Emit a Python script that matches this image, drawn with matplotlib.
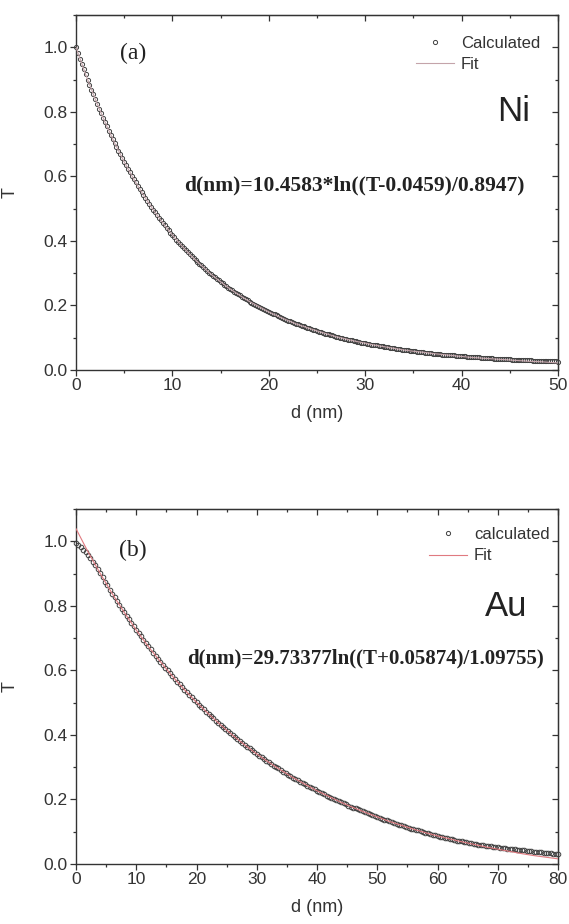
import numpy as np
import matplotlib
matplotlib.use("Agg")
import matplotlib.pyplot as plt
from matplotlib.lines import Line2D
from matplotlib.ticker import MultipleLocator

plt.rcParams["font.family"] = ["Liberation Sans", "DejaVu Sans"]

# ---- data ----
NI_STEP = 0.2   # nm between calculated points
NI_T = [
    1.000, 0.983, 0.965, 0.949, 0.932, 0.916, 0.900, 0.884, 0.869, 0.854,
    0.839, 0.824, 0.810, 0.796, 0.782, 0.769, 0.755, 0.742, 0.729, 0.717,
    0.704, 0.692, 0.680, 0.668, 0.657, 0.645, 0.634, 0.623, 0.612, 0.602,
    0.591, 0.581, 0.571, 0.561, 0.552, 0.542, 0.533, 0.524, 0.515, 0.506,
    0.497, 0.489, 0.480, 0.472, 0.464, 0.456, 0.448, 0.441, 0.433, 0.426,
    0.418, 0.411, 0.404, 0.397, 0.391, 0.384, 0.377, 0.371, 0.365, 0.358,
    0.352, 0.346, 0.341, 0.335, 0.329, 0.324, 0.318, 0.313, 0.307, 0.302,
    0.297, 0.292, 0.287, 0.282, 0.278, 0.273, 0.269, 0.264, 0.260, 0.255,
    0.251, 0.247, 0.243, 0.239, 0.235, 0.231, 0.227, 0.223, 0.220, 0.216,
    0.212, 0.209, 0.206, 0.202, 0.199, 0.196, 0.192, 0.189, 0.186, 0.183,
    0.180, 0.177, 0.174, 0.172, 0.169, 0.166, 0.163, 0.161, 0.158, 0.156,
    0.153, 0.151, 0.148, 0.146, 0.144, 0.141, 0.139, 0.137, 0.135, 0.133,
    0.131, 0.129, 0.126, 0.125, 0.123, 0.121, 0.119, 0.117, 0.115, 0.113,
    0.112, 0.110, 0.108, 0.107, 0.105, 0.103, 0.102, 0.100, 0.099, 0.097,
    0.096, 0.094, 0.093, 0.092, 0.090, 0.089, 0.088, 0.086, 0.085, 0.084,
    0.083, 0.081, 0.080, 0.079, 0.078, 0.077, 0.076, 0.075, 0.074, 0.073,
    0.072, 0.071, 0.070, 0.069, 0.068, 0.067, 0.066, 0.065, 0.064, 0.063,
    0.062, 0.061, 0.061, 0.060, 0.059, 0.058, 0.058, 0.057, 0.056, 0.055,
    0.055, 0.054, 0.053, 0.053, 0.052, 0.051, 0.051, 0.050, 0.049, 0.049,
    0.048, 0.048, 0.047, 0.046, 0.046, 0.045, 0.045, 0.044, 0.044, 0.043,
    0.043, 0.042, 0.042, 0.041, 0.041, 0.040, 0.040, 0.039, 0.039, 0.039,
    0.038, 0.038, 0.037, 0.037, 0.037, 0.036, 0.036, 0.035, 0.035, 0.035,
    0.034, 0.034, 0.034, 0.033, 0.033, 0.033, 0.032, 0.032, 0.032, 0.031,
    0.031, 0.031, 0.031, 0.030, 0.030, 0.030, 0.030, 0.029, 0.029, 0.029,
    0.029, 0.028, 0.028, 0.028, 0.028, 0.027, 0.027, 0.027, 0.027, 0.027,
    0.026,
]
NI_FIT_STEP = 1.0
NI_FIT = [
    1.000, 0.916, 0.839, 0.769, 0.704, 0.645, 0.591, 0.542, 0.497, 0.456,
    0.418, 0.384, 0.352, 0.324, 0.297, 0.273, 0.251, 0.231, 0.212, 0.196,
    0.180, 0.166, 0.153, 0.141, 0.131, 0.121, 0.112, 0.103, 0.096, 0.089,
    0.083, 0.077, 0.072, 0.067, 0.062, 0.058, 0.055, 0.051, 0.048, 0.045,
    0.042, 0.039, 0.037, 0.035, 0.033, 0.031, 0.029, 0.027, 0.026, 0.024,
    0.022,
]

AU_STEP = 0.4
AU_T = [
    0.994, 0.988, 0.982, 0.974, 0.966, 0.957, 0.947, 0.936, 0.925, 0.913,
    0.901, 0.888, 0.875, 0.863, 0.850, 0.838, 0.826, 0.814, 0.803, 0.791,
    0.780, 0.769, 0.758, 0.747, 0.736, 0.725, 0.715, 0.705, 0.694, 0.684,
    0.674, 0.665, 0.655, 0.645, 0.636, 0.627, 0.618, 0.608, 0.600, 0.591,
    0.582, 0.574, 0.565, 0.557, 0.549, 0.540, 0.532, 0.524, 0.517, 0.509,
    0.501, 0.494, 0.487, 0.479, 0.472, 0.465, 0.458, 0.451, 0.444, 0.438,
    0.431, 0.424, 0.418, 0.412, 0.405, 0.399, 0.393, 0.387, 0.381, 0.375,
    0.369, 0.364, 0.358, 0.352, 0.347, 0.341, 0.336, 0.331, 0.326, 0.320,
    0.315, 0.310, 0.305, 0.301, 0.296, 0.291, 0.286, 0.282, 0.277, 0.273,
    0.268, 0.264, 0.260, 0.255, 0.251, 0.247, 0.243, 0.239, 0.235, 0.231,
    0.227, 0.223, 0.220, 0.216, 0.212, 0.209, 0.205, 0.201, 0.198, 0.195,
    0.191, 0.188, 0.185, 0.181, 0.178, 0.175, 0.172, 0.169, 0.166, 0.163,
    0.160, 0.157, 0.154, 0.151, 0.148, 0.146, 0.143, 0.140, 0.137, 0.135,
    0.132, 0.130, 0.127, 0.125, 0.122, 0.120, 0.117, 0.115, 0.113, 0.110,
    0.108, 0.106, 0.104, 0.102, 0.099, 0.097, 0.095, 0.093, 0.091, 0.089,
    0.087, 0.085, 0.083, 0.081, 0.080, 0.078, 0.076, 0.074, 0.072, 0.071,
    0.070, 0.068, 0.067, 0.065, 0.064, 0.063, 0.061, 0.060, 0.059, 0.058,
    0.057, 0.056, 0.055, 0.054, 0.053, 0.052, 0.051, 0.050, 0.049, 0.048,
    0.047, 0.046, 0.045, 0.044, 0.043, 0.042, 0.042, 0.041, 0.040, 0.039,
    0.038, 0.038, 0.037, 0.036, 0.035, 0.034, 0.033, 0.033, 0.032, 0.031,
    0.031,
]
AU_FIT_STEP = 2.0
AU_FIT = [
    1.039, 0.967, 0.901, 0.838, 0.780, 0.725, 0.674, 0.627, 0.582, 0.540,
    0.501, 0.465, 0.431, 0.399, 0.369, 0.341, 0.315, 0.291, 0.268, 0.247,
    0.227, 0.209, 0.191, 0.175, 0.160, 0.146, 0.132, 0.120, 0.108, 0.097,
    0.087, 0.078, 0.069, 0.061, 0.053, 0.046, 0.039, 0.032, 0.026, 0.021,
    0.016,
]

PANELS = [
    dict(t=NI_T, step=NI_STEP, fit=NI_FIT, fit_step=NI_FIT_STEP, xmax=50,
         tag="(a)", tag_y=0.893, name="Ni", name_y=0.727, name_x=0.942,
         calc_label="Calculated", fit_color="#c4a4aa", ms=3.0,
         formula="d(nm)=10.4583*ln((T-0.0459)/0.8947)", formula_x=0.224,
         formula_y=0.521, formula_size=15.5, leg_x=0.705, leg_y=0.942),
    dict(t=AU_T, step=AU_STEP, fit=AU_FIT, fit_step=AU_FIT_STEP, xmax=80,
         tag="(b)", tag_y=0.882, name="Au", name_y=0.724, name_x=0.936,
         calc_label="calculated", fit_color="#e07a80", ms=3.3,
         formula="d(nm)=29.73377ln((T+0.05874)/1.09755)", formula_x=0.230,
         formula_y=0.58, formula_size=15.0, leg_x=0.732, leg_y=0.950),
]

W, H = 569, 924
fig = plt.figure(figsize=(W / 100, H / 100), dpi=100)
fig.patch.set_facecolor("white")

axes_px = [(76, 15, 558, 370), (76, 509, 558, 864)]
ink = "#333333"
circ = "#404040"

for p, (x0, y0, x1, y1) in zip(PANELS, axes_px):
    ax = fig.add_axes([x0 / W, 1 - y1 / H, (x1 - x0) / W, (y1 - y0) / H])

    t = np.array(p["t"])
    d = p["step"] * np.arange(len(t))
    fit = np.array(p["fit"])
    dfit = p["fit_step"] * np.arange(len(fit))

    ax.plot(d, t, ls="none", marker="o", ms=p["ms"], mfc="none", mec=circ,
            mew=0.7, clip_on=False, zorder=3)
    ax.plot(dfit, fit, color=p["fit_color"], lw=0.8, zorder=4)

    ax.set_xlim(0, p["xmax"])
    ax.set_ylim(0, 1.1)
    ax.xaxis.set_major_locator(MultipleLocator(10))
    ax.xaxis.set_minor_locator(MultipleLocator(5))
    ax.yaxis.set_major_locator(MultipleLocator(0.2))
    ax.yaxis.set_minor_locator(MultipleLocator(0.1))
    ax.yaxis.set_major_formatter(plt.FuncFormatter(lambda v, pos: f"{v:.1f}"))

    for s in ax.spines.values():
        s.set_color(ink)
        s.set_linewidth(1.0)
    ax.tick_params(which="both", direction="out", colors=ink, width=0.9,
                   labelsize=12.5, labelcolor=ink, pad=2)
    ax.tick_params(which="major", length=4)
    ax.tick_params(which="minor", length=2.5)

    # top / right ticks point inward
    top = ax.secondary_xaxis("top")
    top.xaxis.set_major_locator(MultipleLocator(10))
    top.xaxis.set_minor_locator(MultipleLocator(5))
    top.tick_params(which="both", direction="in", colors=ink, width=0.9,
                    labeltop=False)
    top.tick_params(which="major", length=4)
    top.tick_params(which="minor", length=2.5)
    right = ax.secondary_yaxis("right")
    right.yaxis.set_major_locator(MultipleLocator(0.2))
    right.yaxis.set_minor_locator(MultipleLocator(0.1))
    right.tick_params(which="both", direction="in", colors=ink, width=0.9,
                      labelright=False)
    right.tick_params(which="major", length=4)
    right.tick_params(which="minor", length=2.5)

    ax.set_xlabel("d (nm)", fontsize=13, color=ink)
    ax.set_ylabel("T", fontsize=13, color=ink)
    ax.xaxis.set_label_coords(0.5, -0.1)
    ax.yaxis.set_label_coords(-0.118, 0.5)

    ax.text(0.118, p["tag_y"], p["tag"], transform=ax.transAxes,
            family="Liberation Serif", fontsize=17, ha="center", va="center",
            color="#222222")
    ax.text(p["name_x"], p["name_y"], p["name"], transform=ax.transAxes,
            fontsize=25, ha="right", va="center", color="#222222")
    ax.text(p["formula_x"], p["formula_y"], p["formula"],
            transform=ax.transAxes, family="Liberation Serif",
            fontweight="bold", fontsize=p["formula_size"], ha="left",
            va="center", color="#222222")

    handles = [
        Line2D([], [], ls="none", marker="o", ms=3.0, mfc="none", mec=circ,
               mew=0.7),
        Line2D([], [], color=p["fit_color"], lw=0.8),
    ]
    ax.legend(handles, [p["calc_label"], "Fit"], loc="upper left",
              bbox_to_anchor=(p["leg_x"], p["leg_y"]), frameon=False,
              fontsize=12, handlelength=2.3, handletextpad=0.4,
              borderpad=0, borderaxespad=0, labelspacing=0.4,
              labelcolor=ink)

fig.savefig("out.png", dpi=100, facecolor="white")
